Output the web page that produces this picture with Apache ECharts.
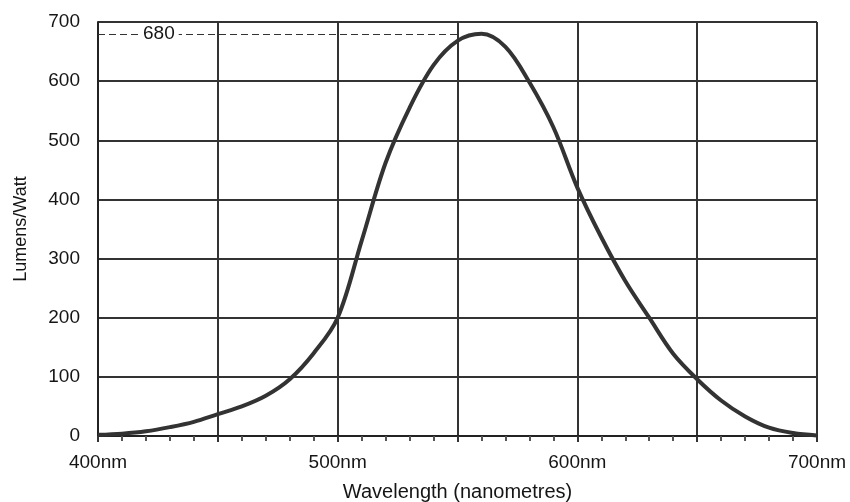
<!DOCTYPE html>
<html>
<head>
<meta charset="utf-8">
<script src="https://cdn.jsdelivr.net/npm/echarts@6/dist/echarts.min.js"></script>
<style>
  html, body { margin: 0; padding: 0; background: #fff; }
  #chart { width: 850px; height: 502px; }
</style>
</head>
<body>
<div id="chart"></div>
<script>
// wavelength (nm) and luminous efficacy (lumens/watt)
const wavelengths = [400, 410, 420, 430, 440, 450, 460, 470, 480, 490, 500,
  510, 520, 530, 540, 550, 560, 570, 580, 590, 600,
  610, 620, 630, 640, 650, 660, 670, 680, 690, 700]
const lumens = [2, 4, 8, 15, 24, 37, 50, 68, 96, 140, 200,
  330, 462, 555, 627, 668, 680, 658, 598, 522, 420,
  336, 262, 200, 139, 96, 60, 33, 14, 5, 1]
const peakValue = 680
const peakLineEnd = 550

const font = 'Liberation Sans, Arial, sans-serif'
const ink = '#151515'

let chart = echarts.init(document.getElementById('chart'))

const option = {
  backgroundColor: '#fff',
  animation: false,
  grid: {
    left: 98,
    right: 33,
    top: 22,
    bottom: 66,
    outerBoundsMode: 'none'
  },
  xAxis: {
    type: 'value',
    min: 400,
    max: 700,
    interval: 50,
    name: 'Wavelength (nanometres)',
    nameLocation: 'middle',
    nameGap: 46,
    nameTextStyle: { color: ink, fontSize: 20, fontFamily: font },
    axisLine: { show: true, lineStyle: { color: '#222', width: 2 } },
    axisTick: { show: true, length: 6, lineStyle: { color: '#333', width: 2 } },
    minorTick: { show: true, splitNumber: 5, length: 5, lineStyle: { color: '#555', width: 2 } },
    axisLabel: {
      color: ink,
      fontSize: 19,
      fontFamily: font,
      margin: 17,
      formatter(v) {
        return v % 100 === 0 ? v + 'nm' : ''
      }
    },
    splitLine: { show: true, lineStyle: { color: '#333', width: 2 } }
  },
  yAxis: {
    type: 'value',
    min: 0,
    max: 700,
    interval: 100,
    name: 'Lumens/Watt',
    nameLocation: 'middle',
    nameGap: 68,
    nameTextStyle: { color: ink, fontSize: 18, fontFamily: font },
    axisLine: { show: true, lineStyle: { color: '#222', width: 2 } },
    axisTick: { show: false },
    axisLabel: { color: ink, fontSize: 19, fontFamily: font, margin: 18 },
    splitLine: { show: true, lineStyle: { color: '#333', width: 2 } }
  },
  series: [
    {
      type: 'line',
      data: wavelengths.map((w, i) => [w, lumens[i]]),
      smooth: 0.35,
      symbol: 'none',
      lineStyle: { color: '#333', width: 4 },
      markLine: {
        silent: true,
        symbol: 'none',
        lineStyle: { color: '#333', width: 1.2, type: [7, 4] },
        label: {
          show: true,
          position: 'insideStart',
          distance: [41, 0],
          formatter: String(peakValue),
          color: ink,
          fontSize: 19,
          fontFamily: font,
          backgroundColor: '#fff',
          padding: [0, 4]
        },
        data: [[{ coord: [400, peakValue] }, { coord: [peakLineEnd, peakValue] }]]
      }
    }
  ]
}

chart.setOption(option)
</script>
</body>
</html>
